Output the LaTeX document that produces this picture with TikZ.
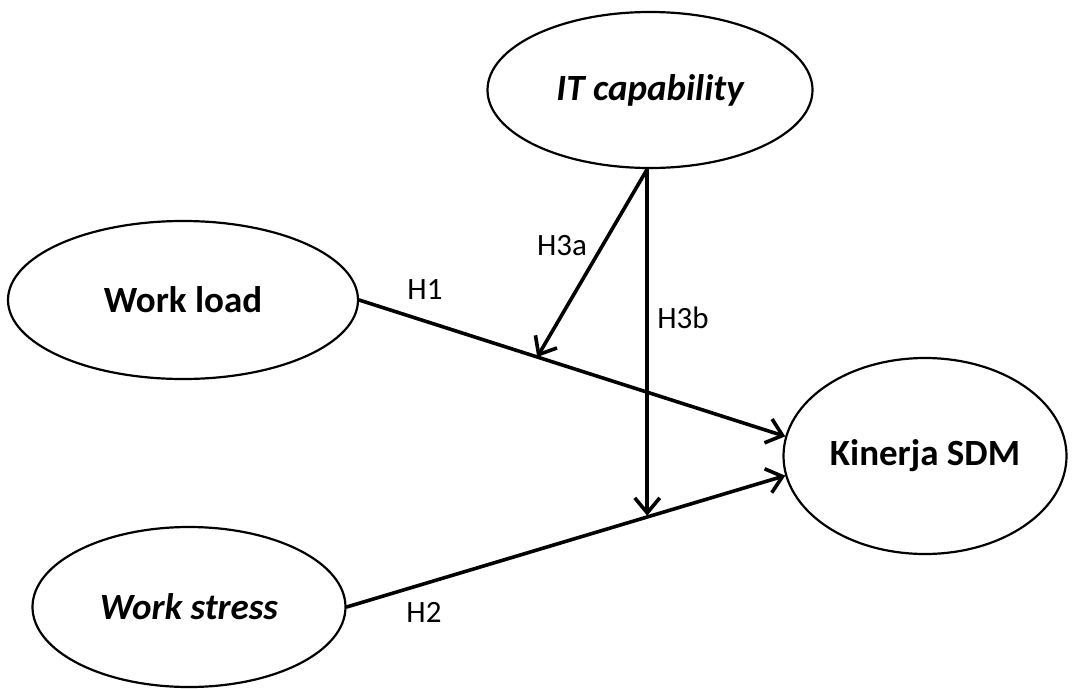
\documentclass[tikz,border=0pt]{standalone}
\usepackage{fontspec}
\setmainfont{Carlito}
\usetikzlibrary{arrows.meta,shapes.geometric}

\tikzset{
  latent/.style={ellipse,draw,line width=2.2pt,inner sep=0pt,
    font=\fontsize{37}{40}\selectfont\bfseries},
  link/.style={line width=3.6pt,line cap=round,
    -{Straight Barb[length=15pt,width=25pt,line join=miter]}},
  hyp/.style={font=\fontsize{31}{34}\selectfont}
}

\begin{document}
\begin{tikzpicture}[x=1pt,y=-1pt,line join=round]
\useasboundingbox (0,0) rectangle (1075,688);

% latent variables
\node[latent,minimum width=325pt,minimum height=156pt] (it) at (650,90) {\itshape IT capability};
\node[latent,minimum width=350pt,minimum height=158pt] (wl) at (183,300) {Work load};
\node[latent,minimum width=313pt,minimum height=160pt] (ws) at (189,607) {\itshape Work stress};
\node[latent,minimum width=283pt,minimum height=196pt] (ks) at (925,456) {Kinerja SDM};

% direct paths
\draw[link] (wl.east) -- (ks.172) coordinate[pos=0.418] (h3a);
\draw[link] (ws.east) -- (ks.188) coordinate[pos=0.695] (h3b);

% moderating paths
\draw[link] (it.268) -- (h3a);
\draw[link] (it.268) -- (it.268 |- h3b);

\node[hyp] (l1) at (425,290) {H1};
\node[hyp] (l2) at (424,612) {H2};
\node[hyp] (l3a) at (562,246) {H3a};
\node[hyp] (l3b) at (683,318) {H3b};
\end{tikzpicture}
\end{document}
